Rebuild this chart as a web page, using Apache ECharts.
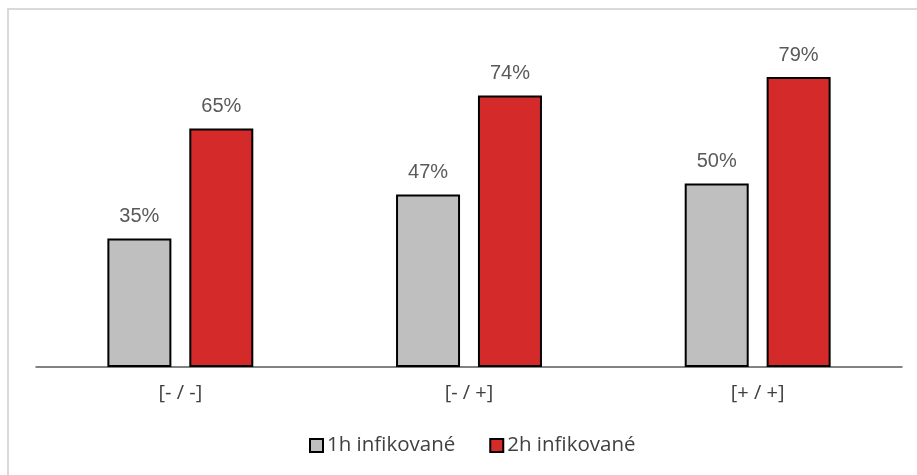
<!DOCTYPE html>
<html>
<head>
<meta charset="utf-8">
<script src="https://cdn.jsdelivr.net/npm/echarts@6/dist/echarts.min.js"></script>
<style>
  html, body { margin: 0; padding: 0; background: #fff; }
  #chart { width: 917px; height: 475px; }
</style>
</head>
<body>
<div id="chart"></div>
<script>
// Groups along the x axis
const categories = ['[- / -]', '[- / +]', '[+ / +]'];
// Share of infected cells (%)
const infected1h = [35, 47, 50];
const infected2h = [65, 74, 79];
const seriesNames = ['1h infikované', '2h infikované'];

const font = "'Liberation Sans', Arial, sans-serif";
const wideFont = "'Open Sans', 'Liberation Sans', sans-serif";
const chart = echarts.init(document.getElementById('chart'), null, { renderer: 'canvas' });

const labelStyle = {
  show: true,
  position: 'top',
  distance: 12,
  formatter: p => p.value + '%',
  color: '#595959',
  fontSize: 20,
  fontFamily: font
};

chart.setOption({
  animation: false,
  backgroundColor: '#ffffff',
  graphic: [{
    type: 'rect',
    shape: { x: 8, y: 9, width: 1000, height: 1000 },
    style: { fill: 'none', stroke: '#d9d9d9', lineWidth: 2 },
    silent: true
  }],
  grid: { left: 36, right: 15, top: 0, bottom: 108, containLabel: false },
  legend: {
    data: seriesNames,
    bottom: 19,
    left: 309,
    padding: 0,
    itemWidth: 13,
    itemHeight: 13,
    itemGap: 34,
    icon: 'rect',
    textStyle: { color: '#404040', fontSize: 20.5, fontFamily: wideFont, padding: [0, 0, 0, -1] }
  },
  xAxis: {
    type: 'category',
    data: categories,
    axisLine: { lineStyle: { color: '#595959', width: 1.5 } },
    axisTick: { show: false },
    axisLabel: { color: '#404040', fontSize: 20, fontFamily: wideFont, margin: 16 }
  },
  yAxis: {
    type: 'value',
    min: 0,
    max: 100,
    show: false,
    splitLine: { show: false }
  },
  series: [
    {
      name: seriesNames[0],
      type: 'bar',
      data: infected1h,
      barWidth: 64,
      barGap: '28%',
      itemStyle: { color: '#bfbfbf', borderColor: '#000000', borderWidth: 2 },
      label: labelStyle
    },
    {
      name: seriesNames[1],
      type: 'bar',
      data: infected2h,
      barWidth: 64,
      itemStyle: { color: '#d52a2a', borderColor: '#000000', borderWidth: 2 },
      label: labelStyle
    }
  ]
});
</script>
</body>
</html>
